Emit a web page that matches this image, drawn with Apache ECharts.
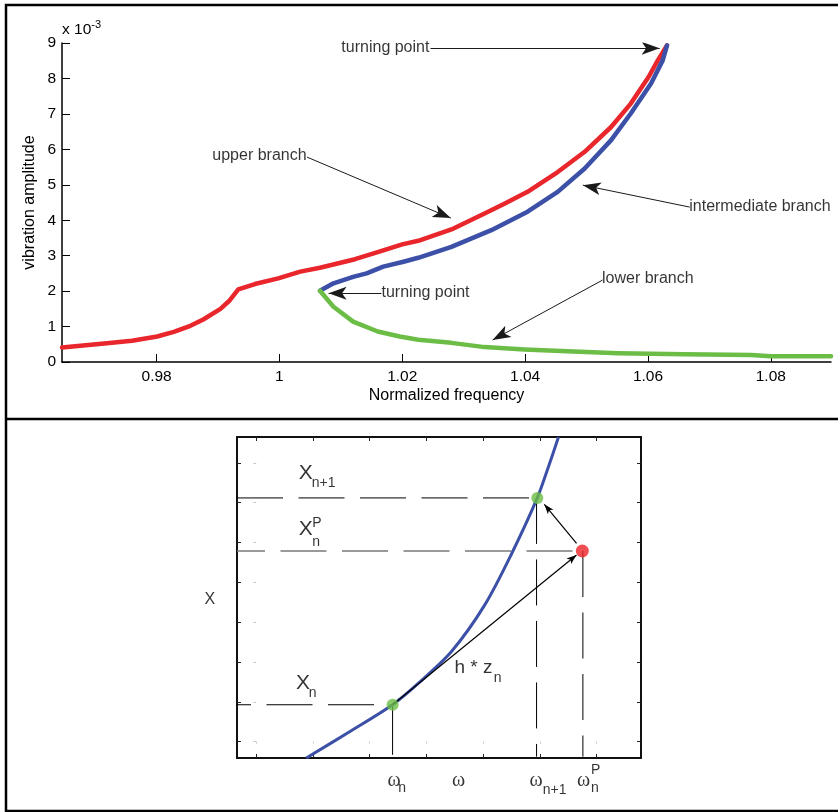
<!DOCTYPE html>
<html><head><meta charset="utf-8">
<script src="https://cdn.jsdelivr.net/npm/echarts@6/dist/echarts.min.js"></script>
<style>html,body{margin:0;padding:0;background:#fff}#c{width:838px;height:812px}</style>
</head><body><div id="c"></div>
<script>
// ===== Top panel: frequency response (amplitude in units of 1e-3) =====
const upperFreq = [0.9646,0.9719,0.9760,0.9801,0.9828,0.9855,0.9876,0.9904,0.9918,0.9933,0.9960,0.9998,1.0034,1.0066,1.0123,1.0160,1.0200,1.0226,1.0280,1.0334,1.0367,1.0404,1.0453,1.0497,1.0540,1.0572,1.0601,1.0616,1.0631];
const upperAmp  = [0.41,0.53,0.60,0.72,0.85,1.02,1.20,1.50,1.72,2.05,2.20,2.36,2.55,2.66,2.90,3.10,3.32,3.42,3.74,4.19,4.47,4.80,5.36,5.93,6.63,7.29,8.04,8.51,8.93];
const interFreq = [1.0066,1.0088,1.0120,1.0142,1.0169,1.0202,1.0226,1.0280,1.0345,1.0404,1.0453,1.0497,1.0540,1.0572,1.0605,1.0624,1.0631];
const interAmp  = [2.01,2.22,2.40,2.50,2.69,2.83,2.94,3.25,3.72,4.24,4.80,5.46,6.26,7.01,7.86,8.51,8.93];
const lowerFreq = [1.0066,1.0088,1.0120,1.0160,1.0196,1.0226,1.0280,1.0334,1.0399,1.0469,1.0551,1.0659,1.0768,1.0800,1.0898];
const lowerAmp  = [2.01,1.56,1.14,0.86,0.72,0.63,0.54,0.42,0.35,0.30,0.25,0.22,0.20,0.16,0.16];
const topXTicks = [0.98,1,1.02,1.04,1.06,1.08];
const topYTicks = [0,1,2,3,4,5,6,7,8,9];
// annotations: text anchor + arrow [from, to]
const topNoteText  = ['turning point','upper branch','intermediate branch','turning point','lower branch'];
const topNoteAt    = [[1.0245,8.85],[1.0045,5.82],[1.0668,4.37],[1.0167,1.945],[1.0526,2.34]];
const topNoteAlign = ['right','right','left','left','left'];
const topArrows = [
  [[1.0246,8.85],[1.0619,8.85]],
  [[1.0045,5.78],[1.0279,4.06]],
  [[1.0668,4.37],[1.0494,4.99]],
  [[1.0166,1.94],[1.0080,1.94]],
  [[1.0526,2.31],[1.0347,0.62]]
];

// ===== Bottom panel: predictor-corrector schematic =====
const curveW = [0.882,1.660,2.404,2.861,3.439,4.030,4.501,4.956,5.150,5.330];
const curveX = [-0.411,0.263,0.927,1.469,2.256,3.434,4.712,6.120,6.892,7.649];
const ptN    = [2.404,0.927];
const ptNext = [4.956,6.12];
const ptPred = [5.75,4.787];
const botXTicks = [0,1,2,3,4,5,6];
const botYTicks = [0,1,2,3,4,5,6,7];
const botArrows = [
  [ptN,[5.648,4.687]],
  [[5.648,4.98],[5.08,5.96]]
];
// bottom text: [text, u, v, fontSize, family, align]
const botNotes = [
  ['X',0.758,6.73,21,'s','left'],['n+1',0.988,6.48,14,'s','left'],
  ['X',0.758,5.31,21,'s','left'],['P',0.996,5.48,14,'s','left'],['n',0.996,5.01,14,'s','left'],
  ['X',0.711,1.46,21,'s','left'],['n',0.935,1.20,14,'s','left'],
  ['h * z',3.504,1.855,19,'s','left'],['n',4.198,1.58,14,'s','left'],
  ['ω',2.323,-1.0,20,'g','left'],['n',2.513,-1.19,14,'s','left'],
  ['ω',3.462,-0.99,20,'g','left'],
  ['ω',4.827,-1.0,20,'g','left'],['n+1',5.062,-1.23,14,'s','left'],
  ['ω',5.667,-1.0,20,'g','left'],['P',5.914,-0.727,14,'s','left'],['n',5.914,-1.19,14,'s','left'],
  ['X',-0.811,3.56,16,'s','center']
];

const SANS = '"Liberation Sans", Arial, sans-serif';
const SERIF = '"Liberation Serif", "DejaVu Serif", serif';
const zip = (a,b) => a.map((v,i)=>[v,b[i]]);
// arrowhead path (tip at box centre so it lands on the line end)
const HEAD = 'path://M0,0 L0.01,0.01 M18,18 L24.5,36 L18,31.5 L11.5,36 Z M36,36 L35.99,35.99';

const BX = [-0.34, 6.785], BY = [-0.41, 7.65];

const chart = echarts.init(document.getElementById('c'), null, {renderer:'canvas'});

function botAxis(extra){
  return Object.assign({
    type:'value', gridIndex:1, splitLine:{show:false},
    axisLine:{show:true, onZero:false, lineStyle:{color:'#111', width:2}},
    axisLabel:{show:false}
  }, extra);
}
function labelItem(p, text, size, family, align){
  return {value:p, label:{show:true, position:[0,0], formatter:text, align:align, verticalAlign:'middle',
    fontSize:size, fontFamily:family, color:'#000'}};
}
function seg(a, b, color, width, type, offset){
  return {type:'line', xAxisIndex:1, yAxisIndex:1, data:[a,b], showSymbol:false, symbol:'none', silent:true,
    lineStyle:{color:color, width:width, type:type, dashOffset:offset||0}, z:2};
}

const option = {
  animation:false,
  backgroundColor:'#fff',
  textStyle:{fontFamily:SANS, color:'#000'},
  grid:[
    {left:62, top:43, width:769, height:319, outerBoundsMode:'none', containLabel:false},
    {left:237, top:437, width:404, height:321, outerBoundsMode:'none', containLabel:false}
  ],
  xAxis:[
    {type:'value', gridIndex:0, min:0.9646, max:1.0898, splitLine:{show:false},
      axisLine:{show:true, onZero:false, lineStyle:{color:'#000', width:1.5}},
      axisTick:{show:true, inside:true, length:8, customValues:topXTicks, lineStyle:{color:'#000', width:1}},
      axisLabel:{show:true, customValues:topXTicks, margin:7, fontSize:15.5, color:'#000', fontFamily:SANS,
        formatter:v=> (Math.abs(v-1)<1e-9 ? '1' : (+v).toFixed(2))},
      name:'Normalized frequency', nameLocation:'middle', nameGap:26,
      nameTextStyle:{fontSize:16, color:'#000', fontFamily:SANS}},
    botAxis({position:'bottom', min:BX[0], max:BX[1],
      axisTick:{show:true, inside:true, length:4, customValues:botXTicks, lineStyle:{color:'#222'}}}),
    botAxis({position:'top', min:BX[0], max:BX[1],
      axisTick:{show:true, inside:true, length:4, customValues:botXTicks, lineStyle:{color:'#222'}}}),
    botAxis({position:'bottom', offset:2, min:BX[0], max:BX[1], axisLine:{show:false},
      axisTick:{show:true, inside:false, length:2, customValues:botXTicks, lineStyle:{color:'#c8c8c8'}}})
  ],
  yAxis:[
    {type:'value', gridIndex:0, min:0, max:9, interval:1, splitLine:{show:false},
      axisLine:{show:true, onZero:false, lineStyle:{color:'#000', width:1.5}},
      axisTick:{show:true, inside:true, length:8, lineStyle:{color:'#000', width:1}},
      axisLabel:{show:true, margin:6, fontSize:15.5, color:'#000', fontFamily:SANS},
      name:'{a|x 10}{s|-3}', nameLocation:'end', nameGap:3,
      nameTextStyle:{align:'left', verticalAlign:'bottom',
        rich:{a:{fontSize:15.5, fontFamily:SANS, color:'#000'}, s:{fontSize:11, fontFamily:SANS, color:'#000', padding:[0,0,10,0]}}}},
    botAxis({position:'left', min:BY[0], max:BY[1],
      axisTick:{show:true, inside:true, length:4, customValues:botYTicks, lineStyle:{color:'#222'}}}),
    botAxis({position:'right', min:BY[0], max:BY[1],
      axisTick:{show:true, inside:true, length:4, customValues:botYTicks, lineStyle:{color:'#222'}}}),
    botAxis({position:'left', offset:4, min:BY[0], max:BY[1], axisLine:{show:false},
      axisTick:{show:true, inside:false, length:3, customValues:botYTicks, lineStyle:{color:'#c8c8c8'}}}),
    {type:'value', gridIndex:0, position:'left', min:0, max:9, splitLine:{show:false},
      axisLine:{show:false}, axisTick:{show:false}, axisLabel:{show:false},
      name:'vibration amplitude', nameLocation:'middle', nameGap:24, nameRotate:90,
      nameTextStyle:{fontSize:16, color:'#000', fontFamily:SANS}}
  ],
  series:[
    // ---- top panel curves
    {name:'upper branch', type:'line', xAxisIndex:0, yAxisIndex:0, data:zip(upperFreq,upperAmp), showSymbol:false, symbol:'none',
      lineStyle:{color:'#e8262b', width:4.5, cap:'round', join:'round'}, z:3},
    {name:'intermediate branch', type:'line', xAxisIndex:0, yAxisIndex:0, data:zip(interFreq,interAmp), showSymbol:false, symbol:'none',
      lineStyle:{color:'#3b50a6', width:4.5, cap:'round', join:'round'}, z:4},
    {name:'lower branch', type:'line', xAxisIndex:0, yAxisIndex:0, data:zip(lowerFreq,lowerAmp), showSymbol:false, symbol:'none',
      lineStyle:{color:'#6bbd45', width:4.5, cap:'round', join:'round'}, z:5},
    {type:'lines', coordinateSystem:'cartesian2d', xAxisIndex:0, yAxisIndex:0, silent:true, z:6,
      symbol:['none', HEAD], symbolSize:36,
      lineStyle:{color:'#1a1a1a', width:1, opacity:1, curveness:0},
      data: topArrows.map(a=>({coords:a}))},
    {type:'scatter', xAxisIndex:0, yAxisIndex:0, symbolSize:1, clip:false, silent:true, z:7,
      itemStyle:{color:'rgba(0,0,0,0)'},
      data: topNoteText.map((t,i)=>labelItem(topNoteAt[i], t, 16, SANS, topNoteAlign[i]))},
    // ---- bottom panel
    {name:'X(ω)', type:'line', xAxisIndex:1, yAxisIndex:1, data:zip(curveW,curveX), showSymbol:false, symbol:'none',
      smooth:0.3, lineStyle:{color:'#3b50a6', width:3}, z:3},
    seg([BX[0],ptNext[1]], ptNext, '#000', 1, [46,15.5], 0),
    seg([BX[0],ptPred[1]], ptPred, '#7a7a7a', 1.6, [46,15.5], 18),
    seg([BX[0],ptN[1]], ptN, '#000', 1, [46,15.5], 32),
    seg([4.943,ptNext[1]], [4.943,-0.376], '#000', 1, [46,15.5], 0),
    seg([5.76,ptPred[1]], [5.76,-0.376], '#000', 1, [46,15.5], 0),
    seg(ptN, [ptN[0],-0.33], '#000', 1, 'solid', 0),
    {type:'lines', coordinateSystem:'cartesian2d', xAxisIndex:1, yAxisIndex:1, silent:true, z:6,
      symbol:['none', HEAD], symbolSize:20,
      lineStyle:{color:'#000', width:1.2, opacity:1, curveness:0},
      data: botArrows.map(a=>({coords:a}))},
    {type:'scatter', xAxisIndex:1, yAxisIndex:1, symbolSize:12, silent:true, z:8,
      itemStyle:{color:'#6bbd45'}, data:[ptN, ptNext]},
    {type:'scatter', xAxisIndex:1, yAxisIndex:1, symbolSize:13, silent:true, z:8,
      itemStyle:{color:'#ec2227'}, data:[ptPred]},
    {type:'scatter', xAxisIndex:1, yAxisIndex:1, symbolSize:1, clip:false, silent:true, z:9,
      itemStyle:{color:'rgba(0,0,0,0)'},
      data: botNotes.map(n=>labelItem([n[1],n[2]], n[0], n[3], n[4]==='g'?SERIF:SANS, n[5]))}
  ],
  graphic:[
    {type:'rect', shape:{x:6, y:5, width:860, height:806}, style:{fill:'none', stroke:'#000', lineWidth:2.5}, silent:true},
    {type:'line', shape:{x1:6, y1:419, x2:860, y2:419}, style:{stroke:'#000', lineWidth:2.5}, silent:true}
  ]
};
chart.setOption(option);
</script>
</body></html>
